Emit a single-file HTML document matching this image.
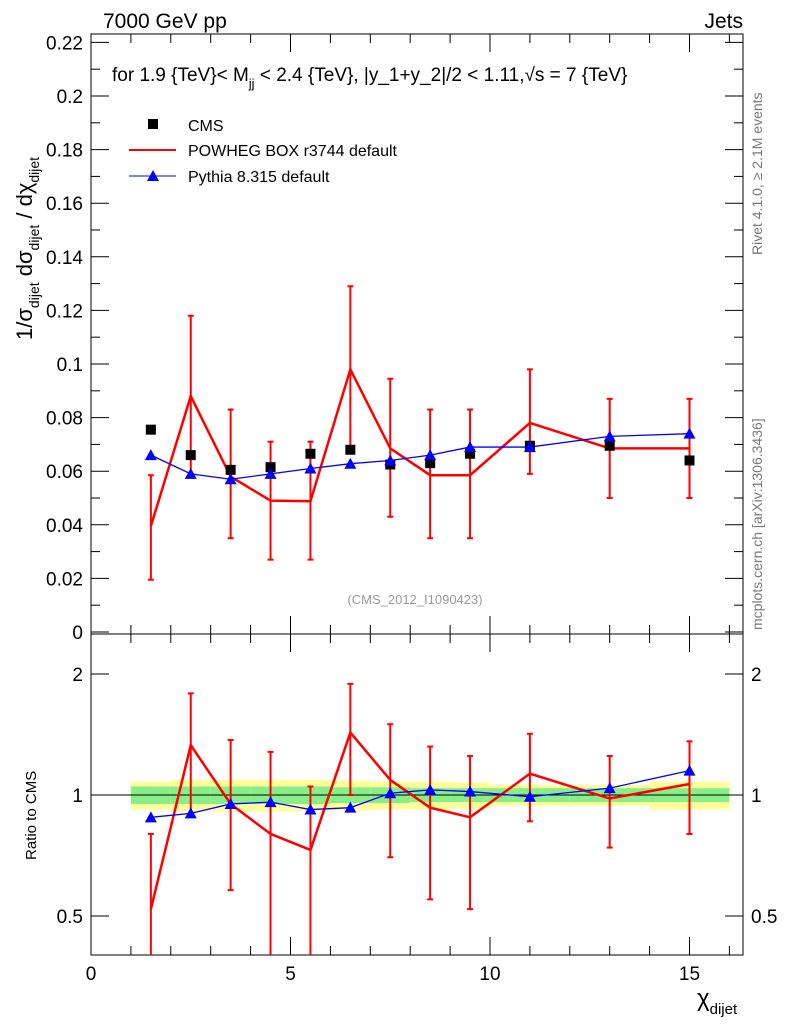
<!DOCTYPE html>
<html><head><meta charset="utf-8"><style>
body{margin:0;background:#fff;}
svg text{font-family:"Liberation Sans",sans-serif;}
</style></head><body>
<svg id="c" width="786" height="1024" xmlns="http://www.w3.org/2000/svg"></svg>
<script>
const binLo=[1,2,3,4,5,6,7,8,9,10,12,14];
const binHi=[2,3,4,5,6,7,8,9,10,12,14,16];
const xc=[1.5,2.5,3.5,4.5,5.5,6.5,7.5,8.5,9.5,11,13,15];
const cms=[0.0755,0.066,0.0605,0.0615,0.0665,0.068,0.0625,0.063,0.0665,0.0695,0.0695,0.064];
const pow=[0.0395,0.088,0.058,0.049,0.0488,0.098,0.0685,0.0585,0.0585,0.078,0.0685,0.0685];
const powUp=[0.0585,0.118,0.083,0.071,0.071,0.129,0.0945,0.083,0.083,0.098,0.087,0.087];
const powDn=[0.0195,0.058,0.035,0.027,0.027,0.067,0.043,0.035,0.035,0.059,0.050,0.050];
const pyt=[0.066,0.059,0.057,0.059,0.061,0.0628,0.064,0.066,0.069,0.069,0.073,0.074];
const rPow=[0.52,1.33,0.95,0.80,0.73,1.43,1.09,0.93,0.88,1.13,0.98,1.065];
const rPowUp=[0.8,1.79,1.37,1.28,1.05,1.89,1.5,1.32,1.25,1.42,1.25,1.36];
const rPowDn=[0.3,0.9,0.58,0.4,0.35,1.0,0.7,0.55,0.52,0.86,0.74,0.8];
const rPyt=[0.88,0.9,0.95,0.96,0.92,0.93,1.01,1.03,1.02,0.99,1.04,1.15];
const green=[0.05,0.05,0.05,0.05,0.05,0.045,0.045,0.04,0.04,0.04,0.04,0.04];
const yellow=[0.08,0.09,0.09,0.09,0.09,0.085,0.08,0.08,0.075,0.06,0.06,0.08];
const yTicks=[0,0.02,0.04,0.06,0.08,0.1,0.12,0.14,0.16,0.18,0.2,0.22];
const yTickLabels=["0","0.02","0.04","0.06","0.08","0.1","0.12","0.14","0.16","0.18","0.2","0.22"];
const xTicks=[0,5,10,15];
const rTicks=[0.5,1,2];

const L=91,R=743,T=34,B=634,RT=634,RB=955;
const X=v=>L+(v-0)*39.9;
const Y=v=>632-v*2680;
const RY=v=>795-Math.log2(v)*121;
const s=document.getElementById('c');const NS='http://www.w3.org/2000/svg';
function el(t,a,name,txt){const e=document.createElementNS(NS,t);for(const k in a)e.setAttribute(k,a[k]);


if(txt!==undefined)e.textContent=txt;s.appendChild(e);return e;}
for(let i=0;i<binLo.length;i++){
 el('rect',{x:X(binLo[i]),y:RY(1+yellow[i]),width:X(binHi[i])-X(binLo[i]),height:RY(1-yellow[i])-RY(1+yellow[i]),fill:'#ffff99'},'yellow-band');
 el('rect',{x:X(binLo[i]),y:RY(1+green[i]),width:X(binHi[i])-X(binLo[i]),height:RY(1-green[i])-RY(1+green[i]),fill:'#88ee88'},'green-band');
}
el('line',{x1:L,x2:R,y1:RY(1),y2:RY(1),stroke:'#000'},'ratio-one-line');
el('rect',{x:L,y:T,width:R-L,height:B-T,fill:'none',stroke:'#000'},'main-frame');
el('rect',{x:L,y:RT,width:R-L,height:RB-RT,fill:'none',stroke:'#000'},'ratio-frame');
yTicks.forEach((v,i)=>{el('line',{x1:L,x2:L+18,y1:Y(v),y2:Y(v),stroke:'#000'},'y-tick');
 el('line',{x1:R,x2:R-18,y1:Y(v),y2:Y(v),stroke:'#000'},'y-tick-right');
 el('text',{x:L-8,y:Y(v)+7,'font-size':19,'text-anchor':'end'},'y-tick-label',yTickLabels[i]);
 if(i<yTicks.length-1){const m=v+0.01;el('line',{x1:L,x2:L+9,y1:Y(m),y2:Y(m),stroke:'#000'},'y-minor-tick');el('line',{x1:R,x2:R-9,y1:Y(m),y2:Y(m),stroke:'#000'},'y-minor-tick');}
});
for(let v=0;v<=16;v++){const big=v%5==0;
 el('line',{x1:X(v),x2:X(v),y1:B,y2:B-(big?18:9),stroke:'#000'},'x-tick');
 el('line',{x1:X(v),x2:X(v),y1:T,y2:T+(big?18:9),stroke:'#000'},'x-tick-top');
 el('line',{x1:X(v),x2:X(v),y1:RB,y2:RB-(big?18:9),stroke:'#000'},'ratio-x-tick');
 el('line',{x1:X(v),x2:X(v),y1:RT,y2:RT+(big?18:9),stroke:'#000'},'ratio-x-tick-top');}
xTicks.forEach(v=>el('text',{x:X(v),y:980,'font-size':19,'text-anchor':'middle'},'x-tick-label',String(v)));
rTicks.forEach(v=>{el('line',{x1:L,x2:L+18,y1:RY(v),y2:RY(v),stroke:'#000'},'ratio-y-tick');
 el('line',{x1:R,x2:R-18,y1:RY(v),y2:RY(v),stroke:'#000'},'ratio-y-tick-right');
 el('text',{x:L-8,y:RY(v)+7,'font-size':19,'text-anchor':'end'},'ratio-y-label',String(v));
 el('text',{x:R+8,y:RY(v)+7,'font-size':19},'ratio-y-label-right',String(v));});
for(let i=0;i<xc.length;i++){
 el('line',{x1:X(xc[i]),x2:X(xc[i]),y1:Y(powUp[i]),y2:Y(powDn[i]),stroke:'#f00','stroke-width':2},'powheg-errorbar');
 el('line',{x1:X(xc[i])-3,x2:X(xc[i])+3,y1:Y(powUp[i]),y2:Y(powUp[i]),stroke:'#f00','stroke-width':2},'powheg-cap');
 el('line',{x1:X(xc[i])-3,x2:X(xc[i])+3,y1:Y(powDn[i]),y2:Y(powDn[i]),stroke:'#f00','stroke-width':2},'powheg-cap');
 el('line',{x1:X(xc[i]),x2:X(xc[i]),y1:RY(rPowUp[i]),y2:RY(Math.max(rPowDn[i],0.4)),stroke:'#f00','stroke-width':2},'ratio-powheg-errorbar');
 el('line',{x1:X(xc[i])-3,x2:X(xc[i])+3,y1:RY(rPowUp[i]),y2:RY(rPowUp[i]),stroke:'#f00','stroke-width':2},'ratio-cap');
 if(rPowDn[i]>0.4)el('line',{x1:X(xc[i])-3,x2:X(xc[i])+3,y1:RY(rPowDn[i]),y2:RY(rPowDn[i]),stroke:'#f00','stroke-width':2},'ratio-cap');
}
function path(xs,ys,fy,col,w,name){el('polyline',{points:xs.map((x,i)=>X(x)+','+fy(ys[i])).join(' '),fill:'none',stroke:col,'stroke-width':w},name);}
path(xc,pow,Y,'#f00',2.5,'powheg-line');
path(xc,pyt,Y,'#00f',1.3,'pythia-line');
path(xc,rPow,RY,'#f00',2.5,'ratio-powheg-line');
path(xc,rPyt,RY,'#00f',1.3,'ratio-pythia-line');
function tri(x,y,name){el('polygon',{points:`${x},${y-6} ${x-6},${y+5} ${x+6},${y+5}`,fill:'#00f'},name);}
for(let i=0;i<xc.length;i++){
 el('rect',{x:X(xc[i])-5,y:Y(cms[i])-5,width:10,height:10,fill:'#000'},'cms-point');
 tri(X(xc[i]),Y(pyt[i]),'pythia-marker');tri(X(xc[i]),RY(rPyt[i]),'ratio-pythia-marker');
}
el('rect',{x:148,y:119,width:10,height:10,fill:'#000'},'legend-cms-marker');
el('text',{x:188,y:131,'font-size':16},'legend-cms','CMS');
el('line',{x1:129,x2:176,y1:150,y2:150,stroke:'#f00','stroke-width':2},'legend-powheg-line');
el('text',{x:188,y:156,'font-size':16},'legend-powheg','POWHEG BOX r3744 default');
el('line',{x1:129,x2:176,y1:176,y2:176,stroke:'#00f'},'legend-pythia-line');tri(153,176,'legend-pythia-marker');
el('text',{x:188,y:182,'font-size':16},'legend-pythia','Pythia 8.315 default');
el('text',{x:103,y:28,'font-size':21},'energy-label','7000 GeV pp');
el('text',{x:743,y:28,'font-size':21,'text-anchor':'end'},'process-label','Jets');
const tt=el('text',{x:112,y:81,'font-size':19},'plot-title');
tt.innerHTML='for 1.9 {TeV}&lt; M<tspan font-size="13" dy="7">jj</tspan><tspan dy="-7"> &lt; 2.4 {TeV}, |y_1+y_2|/2 &lt; 1.11,\u221As = 7 {TeV}</tspan>';
el('text',{x:415,y:604,'font-size':13,fill:'#999','text-anchor':'middle'},'analysis-id','(CMS_2012_I1090423)');
const yt=el('text',{x:0,y:0,'font-size':22,transform:'translate(32,340) rotate(-90)'},'y-axis-title');
yt.innerHTML='1/\u03C3<tspan font-size="14" dy="7">dijet</tspan><tspan dy="-7"> d\u03C3</tspan><tspan font-size="14" dy="7">dijet</tspan><tspan dy="-7"> / d\u03C7</tspan><tspan font-size="14" dy="7">dijet</tspan>';
el('text',{x:0,y:0,'font-size':15,transform:'translate(36,860) rotate(-90)'},'ratio-y-title','Ratio to CMS');
const xt=el('text',{x:697,y:1006,'font-size':24},'x-axis-title');
xt.innerHTML='\u03C7<tspan font-size="15" dy="8">dijet</tspan>';
el('text',{x:0,y:0,'font-size':14,fill:'#777',transform:'translate(762,255) rotate(-90)'},'rivet-label','Rivet 4.1.0, \u2265 2.1M events');
el('text',{x:0,y:0,'font-size':14,fill:'#777',transform:'translate(762,630) rotate(-90)'},'mcplots-label','mcplots.cern.ch [arXiv:1306.3436]');
</script></body></html>
